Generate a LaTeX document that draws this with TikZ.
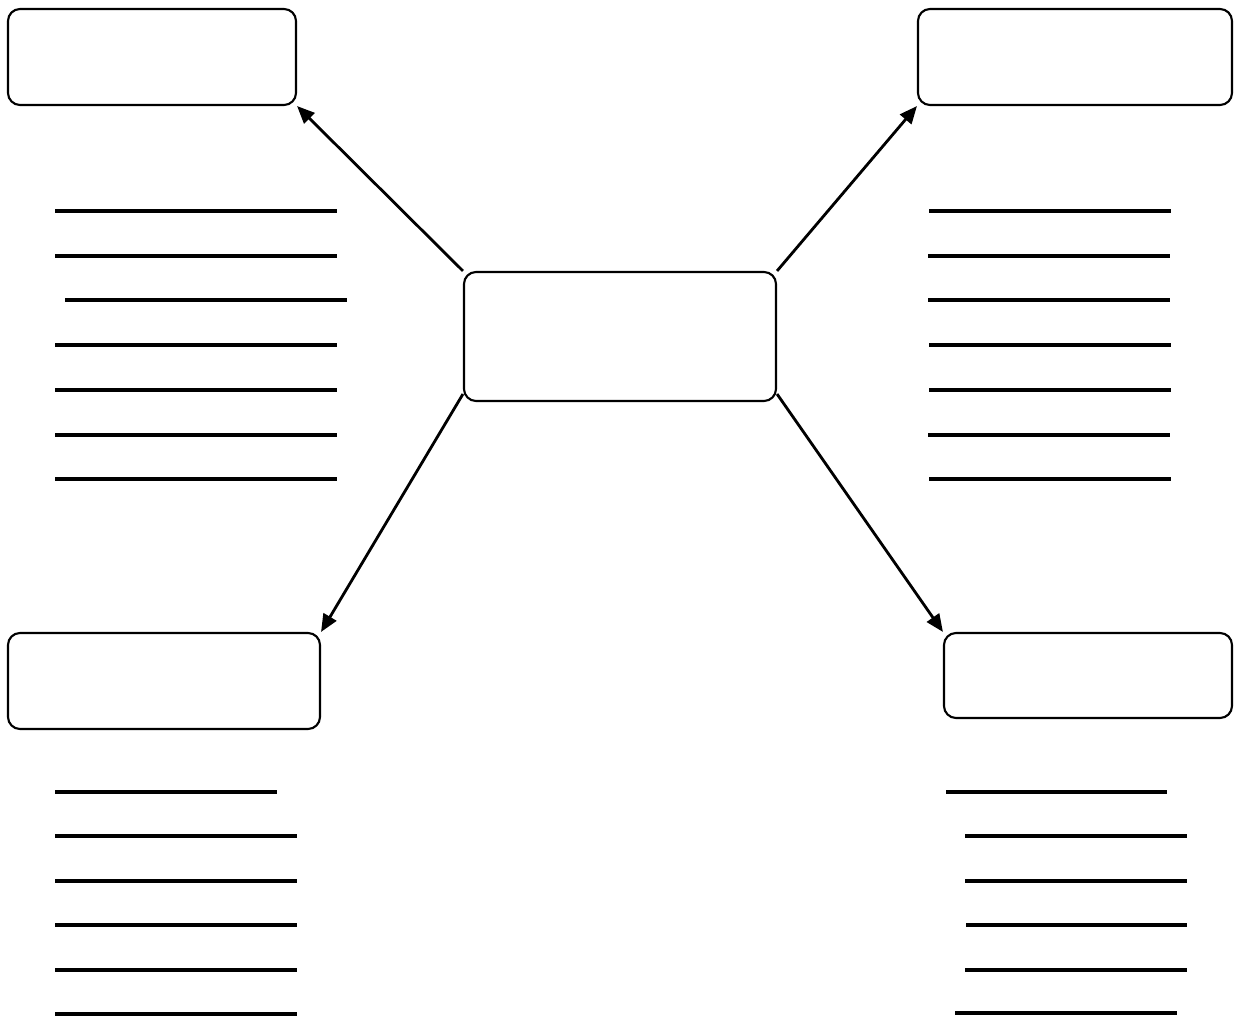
\documentclass[tikz,border=0pt]{standalone}
\usetikzlibrary{arrows.meta}
\begin{document}
\begin{tikzpicture}[x=0.1mm,y=-0.1mm,
  box/.style={draw=black,line width=0.6pt,rounded corners=1.2mm,fill=white,inner sep=0pt},
  conn/.style={draw=black,line width=0.8pt,-{Triangle[length=5pt,width=4.2pt]}},
  blank/.style={draw=black,line width=1pt}]
\useasboundingbox (0,0) rectangle (1234,1016);
\fill[white] (0,0) rectangle (1234,1016);
% boxes
\node[box,minimum width=28.8mm,minimum height=9.6mm] (tl) at (152,57) {};
\node[box,minimum width=31.4mm,minimum height=9.6mm] (tr) at (1075,57) {};
\node[box,minimum width=31.2mm,minimum height=12.9mm] (c) at (620,336.5) {};
\node[box,minimum width=31.2mm,minimum height=9.6mm] (bl) at (164,681) {};
\node[box,minimum width=28.8mm,minimum height=8.5mm] (br) at (1088,675.5) {};
% connectors
\draw[conn] (c.north west) -- (tl.south east);
\draw[conn] (c.north east) -- (tr.south west);
\draw[conn] ([yshift=0.8mm]c.south west) -- (bl.north east);
\draw[conn] ([yshift=0.8mm]c.south east) -- (br.north west);
% blank lines, top left
\draw[blank] (55,211) -- (337,211);
\draw[blank] (55,256) -- (337,256);
\draw[blank] (65,300) -- (347,300);
\draw[blank] (55,345) -- (337,345);
\draw[blank] (55,390) -- (337,390);
\draw[blank] (55,435) -- (337,435);
\draw[blank] (55,479) -- (337,479);
% top right
\draw[blank] (929,211) -- (1171,211);
\draw[blank] (928,256) -- (1170,256);
\draw[blank] (928,300) -- (1170,300);
\draw[blank] (929,345) -- (1171,345);
\draw[blank] (929,390) -- (1171,390);
\draw[blank] (928,435) -- (1170,435);
\draw[blank] (929,479) -- (1171,479);
% bottom left
\draw[blank] (55,792) -- (277,792);
\draw[blank] (55,836) -- (297,836);
\draw[blank] (55,881) -- (297,881);
\draw[blank] (55,925) -- (297,925);
\draw[blank] (55,970) -- (297,970);
\draw[blank] (55,1014) -- (297,1014);
% bottom right
\draw[blank] (946,792) -- (1167,792);
\draw[blank] (965,836) -- (1187,836);
\draw[blank] (965,881) -- (1187,881);
\draw[blank] (966,925) -- (1187,925);
\draw[blank] (965,970) -- (1187,970);
\draw[blank] (955,1013) -- (1177,1013);
\end{tikzpicture}
\end{document}
